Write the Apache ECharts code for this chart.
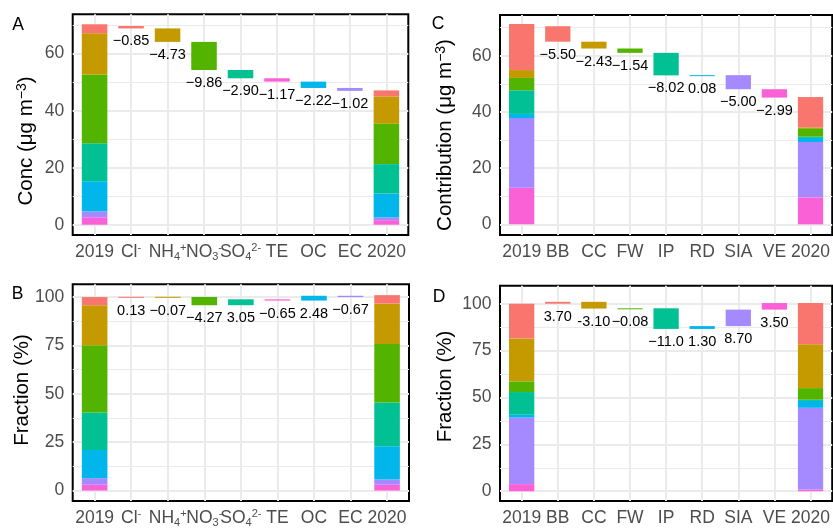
<!DOCTYPE html>
<html>
<head>
<meta charset="utf-8">
<script src="https://cdn.jsdelivr.net/npm/echarts@6/dist/echarts.min.js"></script>
<style>
  html, body { margin: 0; padding: 0; background: #fff; }
  #chart { width: 833px; height: 528px; }
</style>
</head>
<body>
<div id="chart"></div>
<script>
// ggplot hue palette (7 levels)
var hue = ['#F8766D', '#C49A00', '#53B400', '#00C094', '#00B6EB', '#A58AFF', '#FB61D7'];

// ---- species panels (A, B) : order on x after 2019 ----
var speciesCats = ['2019', 'Cl{sup|-}', 'NH{sub|4}{sup|+}', 'NO{sub|3}{sup|-}', 'SO{sub|4}{sup|2-}', 'TE', 'OC', 'EC', '2020'];
// Cl, NH4, NO3, SO4, TE, OC, EC
var speciesColors = [hue[0], hue[1], hue[2], hue[3], hue[6], hue[4], hue[5]];
var speciesStack = [4, 6, 5, 3, 2, 1, 0]; // bottom -> top

var concA2019 = [3.15, 14.45, 24.15, 13.3, 2.6, 10.58, 2.07];
var concA2020 = [2.1, 9.55, 14.2, 10.3, 1.6, 8.4, 0.96];
var concAStart = 69.7;
var concADelta = [-0.85, -4.73, -9.86, -2.90, -1.17, -2.22, -1.02];
var concALabels = ['\u22120.85', '\u22124.73', '\u22129.86', '\u22122.90', '\u22121.17', '\u22122.22', '\u22121.02'];

var fracB2019 = [4.2, 20.7, 34.7, 19.4, 3.0, 14.6, 3.4];
var fracB2020 = [4.4, 20.8, 30.3, 22.6, 3.0, 17.2, 2.7];
var fracBStart = 100;
var fracBDelta = [0.13, -0.07, -4.27, 3.05, -0.65, 2.48, -0.67];
var fracBLabels = ['0.13', '\u22120.07', '\u22124.27', '3.05', '\u22120.65', '2.48', '\u22120.67'];

// ---- source panels (C, D) ----
var sourceCats = ['2019', 'BB', 'CC', 'FW', 'IP', 'RD', 'SIA', 'VE', '2020'];
var sourceColors = hue;
var sourceStack = [6, 5, 4, 3, 2, 1, 0];

var contC2019 = [16.4, 2.8, 4.4, 8.4, 1.5, 24.8, 13.0];
var contC2020 = [10.8, 0.3, 3.0, 0.2, 1.7, 19.7, 9.6];
var contCStart = 70.5;
var contCDelta = [-5.50, -2.43, -1.54, -8.02, 0.08, -5.00, -2.99];
var contCLabels = ['\u22125.50', '\u22122.43', '\u22121.54', '\u22128.02', '0.08', '\u22125.00', '\u22122.99'];

var fracD2019 = [18.5, 22.9, 5.7, 12.1, 1.5, 35.5, 3.8];
var fracD2020 = [22.0, 23.4, 6.2, 0.3, 4.0, 43.6, 0.9];
var fracDStart = 100;
var fracDDelta = [1.0, -3.6, 0.15, -11.0, 1.5, 8.8, 3.5];
var fracDLabels = ['3.70', '-3.10', '\u22120.08', '\u221211.0', '1.30', '8.70', '3.50'];

var concTicks = [0, 20, 40, 60];
var concMinor = [10, 30, 50, 70];
var fracTicks = [0, 25, 50, 75, 100];
var fracMinor = [12.5, 37.5, 62.5, 87.5];

var FONT = '"Liberation Sans", Arial, Helvetica, sans-serif';
var subSup = {
  sub: { fontSize: 11, verticalAlign: 'bottom', lineHeight: 11, color: '#4D4D4D', fontFamily: FONT },
  sup: { fontSize: 11, verticalAlign: 'top', lineHeight: 11, color: '#4D4D4D', fontFamily: FONT }
};

var myChart = echarts.init(document.getElementById('chart'));

var option = {
  animation: false,
  backgroundColor: '#fff',
  textStyle: { fontFamily: FONT },
  grid: [], xAxis: [], yAxis: [], series: [],
  graphic: []
};

function addPanel(i, p) {
  option.grid.push({
    left: p.box[0], top: p.box[1], width: p.box[2], height: p.box[3],
    show: true, borderColor: '#000', borderWidth: 2, backgroundColor: '#fff'
  });
  var idx = [0, 1, 2, 3, 4, 5, 6, 7, 8];
  option.xAxis.push({
    gridIndex: i, type: 'value', min: -0.6, max: 8.6,
    axisLine: { show: false },
    splitLine: { show: false },
    axisTick: { show: true, customValues: idx, length: 5, lineStyle: { color: '#333', width: 1.5 } },
    axisLabel: {
      customValues: idx, margin: 7, fontSize: 17.5, color: '#4D4D4D', lineHeight: 20,
      formatter: function (v) { return p.cats[Math.round(v)]; },
      rich: subSup
    }
  });
  option.yAxis.push({
    gridIndex: i, type: 'value', min: p.yMin, max: p.yMax,
    axisLine: { show: false },
    splitLine: { show: false },
    axisTick: { show: true, customValues: p.ticks, length: 5, lineStyle: { color: '#333', width: 1.5 } },
    axisLabel: { customValues: p.ticks, margin: 8.5, fontSize: 17.5, color: '#4D4D4D' }
  });

  // gridlines
  var gl = [];
  p.ticks.forEach(function (v) { gl.push({ yAxis: v, lineStyle: { width: 2 } }); });
  p.minor.forEach(function (v) { gl.push({ yAxis: v, lineStyle: { width: 1 } }); });
  idx.forEach(function (v) { gl.push({ xAxis: v, lineStyle: { width: 2 } }); });

  // rectangles: [x, low, high, colour index, label index]
  var rects = [];
  var level = p.start;
  p.delta.forEach(function (d, k) {
    var next = level + d;
    rects.push([k + 1, Math.min(level, next), Math.max(level, next), k, k]);
    level = next;
  });
  [[0, p.v2019], [8, p.v2020]].forEach(function (col) {
    var cum = 0;
    p.order.forEach(function (k) {
      rects.push([col[0], cum, cum + col[1][k], k, -1]);
      cum += col[1][k];
    });
  });

  option.series.push({
    type: 'custom', xAxisIndex: i, yAxisIndex: i, silent: true,
    data: rects,
    encode: { x: 0, y: [1, 2] },
    renderItem: function (params, api) {
      var x = api.value(0);
      var top = api.coord([x, api.value(2)]);
      var bot = api.coord([x, api.value(1)]);
      var w = api.size([0.7, 0])[0];
      var h = Math.max(bot[1] - top[1], 1);
      var children = [{
        type: 'rect',
        shape: { x: top[0] - w / 2, y: top[1], width: w, height: h },
        style: { fill: p.colors[api.value(3)] }
      }];
      var li = api.value(4);
      if (li >= 0) {
        children.push({
          type: 'text',
          x: top[0], y: top[1] + h + 5.5,
          style: { text: p.labels[li], fontSize: 14.5, fill: '#000', fontFamily: FONT, align: 'center', verticalAlign: 'top' }
        });
      }
      return { type: 'group', children: children };
    },
    markLine: {
      z: 1, silent: true, symbol: ['none', 'none'], label: { show: false },
      lineStyle: { color: '#EBEBEB', type: 'solid' },
      data: gl
    }
  });

  option.graphic.push({
    type: 'text', x: p.letter[0], y: p.letter[1],
    style: { text: p.name, fontSize: 17.5, fill: '#000', fontFamily: FONT, align: 'center', verticalAlign: 'middle' }
  });
  option.graphic.push({
    type: 'text', x: p.title[0], y: p.title[1], rotation: Math.PI / 2,
    style: {
      text: p.titleText, fontSize: 20.5, fill: '#000', fontFamily: FONT, align: 'center', verticalAlign: 'middle',
      rich: { sup: { fontSize: 14, verticalAlign: 'top', lineHeight: 12, fill: '#000', fontFamily: FONT } }
    }
  });
}

addPanel(0, {
  name: 'A', box: [72.7, 14.3, 335.6, 220.7], yMin: -3.6, yMax: 73.8,
  ticks: concTicks, minor: concMinor, cats: speciesCats, colors: speciesColors, order: speciesStack,
  v2019: concA2019, v2020: concA2020, start: concAStart, delta: concADelta, labels: concALabels,
  letter: [18, 25], title: [26, 141], titleText: 'Conc (\u03bcg m{sup|\u22123})'
});
addPanel(1, {
  name: 'B', box: [72.7, 284.3, 336.3, 221.7], yMin: -5.4, yMax: 106.6,
  ticks: fracTicks, minor: fracMinor, cats: speciesCats, colors: speciesColors, order: speciesStack,
  v2019: fracB2019, v2020: fracB2020, start: fracBStart, delta: fracBDelta, labels: fracBLabels,
  letter: [17.5, 294], title: [22, 390], titleText: 'Fraction (%)'
});
addPanel(2, {
  name: 'C', box: [500, 15, 336, 220], yMin: -3.8, yMax: 74.5,
  ticks: concTicks, minor: concMinor, cats: sourceCats, colors: sourceColors, order: sourceStack,
  v2019: contC2019, v2020: contC2020, start: contCStart, delta: contCDelta, labels: contCLabels,
  letter: [438, 24], title: [445, 135], titleText: 'Contribution (\u03bcg m{sup|\u22123})'
});
addPanel(3, {
  name: 'D', box: [500, 285.7, 336, 219.3], yMin: -5.2, yMax: 109.6,
  ticks: fracTicks, minor: fracMinor, cats: sourceCats, colors: sourceColors, order: sourceStack,
  v2019: fracD2019, v2020: fracD2020, start: fracDStart, delta: fracDDelta, labels: fracDLabels,
  letter: [439, 297], title: [445, 386.5], titleText: 'Fraction (%)'
});

myChart.setOption(option);
</script>
</body>
</html>
